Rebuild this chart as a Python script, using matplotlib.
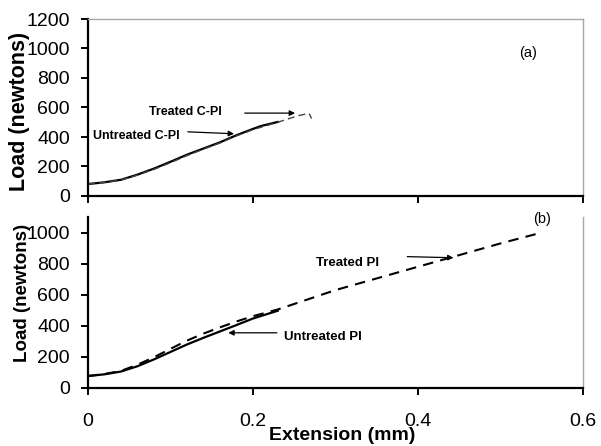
import matplotlib
matplotlib.use("Agg")
import matplotlib.pyplot as plt

plt.rcParams['font.family'] = ['Liberation Sans', 'DejaVu Sans']

# panel (a): C-PI
cpi_untreated_x = [0, 0.02, 0.04, 0.06, 0.08, 0.10, 0.12, 0.14, 0.16, 0.18, 0.20, 0.21, 0.23]
cpi_untreated_y = [81, 93, 110, 145, 186, 232, 280, 322, 364, 412, 455, 475, 502]
cpi_treated_x = [0, 0.02, 0.04, 0.06, 0.08, 0.10, 0.12, 0.14, 0.16, 0.18, 0.20, 0.23, 0.255, 0.268, 0.271]
cpi_treated_y = [81, 92, 108, 142, 181, 226, 274, 318, 360, 408, 450, 500, 545, 560, 525]

# panel (b): PI
pi_untreated_x = [0, 0.02, 0.04, 0.06, 0.08, 0.10, 0.12, 0.14, 0.16, 0.18, 0.20, 0.23]
pi_untreated_y = [77, 88, 106, 140, 184, 232, 280, 323, 364, 405, 447, 497]
pi_treated_x = [0, 0.02, 0.04, 0.06, 0.08, 0.10, 0.12, 0.14, 0.16, 0.18, 0.20, 0.23,
                0.30, 0.40, 0.50, 0.55]
pi_treated_y = [77, 90, 110, 150, 198, 252, 305, 350, 390, 428, 462, 505,
                630, 780, 930, 1000]

x_ticks = [0, 0.2, 0.4, 0.6]
x_tick_labels = ['0', '0.2', '0.4', '0.6']

fig = plt.figure(figsize=(6.01, 4.46), dpi=100)
ax_a = fig.add_axes([88 / 601, 1 - 196 / 446, 495 / 601, 177 / 446])
ax_b = fig.add_axes([88 / 601, 1 - 388 / 446, 495 / 601, 171 / 446])

arrow = dict(arrowstyle='-|>', lw=0.9, color='black', mutation_scale=8, shrinkA=0, shrinkB=0)


def style_axes(ax, show_top):
    ax.set_xlim(0, 0.6)
    ax.set_xticks(x_ticks)
    for side in ['left', 'bottom']:
        ax.spines[side].set_linewidth(1.6)
        ax.spines[side].set_color('black')
    ax.spines['right'].set_color('#a8a8a8')
    ax.spines['right'].set_linewidth(1.0)
    if show_top:
        ax.spines['top'].set_color('#a8a8a8')
        ax.spines['top'].set_linewidth(1.0)
    else:
        ax.spines['top'].set_visible(False)
    ax.tick_params(direction='out', length=5, width=1.4, labelsize=14, pad=8)


# (a)
ax_a.plot(cpi_untreated_x, cpi_untreated_y, color='black', lw=1.6)
ax_a.plot(cpi_treated_x, cpi_treated_y, color='#444444', lw=1.0, dashes=(5, 3))
style_axes(ax_a, True)
ax_a.set_ylim(0, 1200)
ax_a.set_yticks([0, 200, 400, 600, 800, 1000, 1200])
ax_a.tick_params(axis='x', labelbottom=False)
ax_a.set_ylabel('Load (newtons)', fontsize=15.5, fontweight='bold')
ax_a.yaxis.set_label_coords(-0.117, 0.475)
ax_a.text(0.533, 970, '(a)', fontsize=10.5, ha='center', va='center')
ax_a.annotate('', xy=(0.251, 562), xytext=(0.19, 562), arrowprops=arrow)
ax_a.text(0.118, 570, 'Treated C-PI', fontsize=9, fontweight='bold', ha='center', va='center')
ax_a.annotate('', xy=(0.177, 422), xytext=(0.121, 435), arrowprops=arrow)
ax_a.text(0.058, 405, 'Untreated C-PI', fontsize=9, fontweight='bold', ha='center', va='center')

# (b)
ax_b.plot(pi_untreated_x, pi_untreated_y, color='black', lw=1.6)
ax_b.plot(pi_treated_x, pi_treated_y, color='black', lw=1.5, dashes=(5, 3.5))
style_axes(ax_b, False)
ax_b.set_ylim(0, 1100)
ax_b.set_yticks([0, 200, 400, 600, 800, 1000])
ax_b.set_xticklabels(x_tick_labels)
ax_b.tick_params(axis='x', pad=13)
ax_b.set_ylabel('Load (newtons)', fontsize=13.5, fontweight='bold')
ax_b.yaxis.set_label_coords(-0.115, 0.553)
ax_b.set_xlabel('Extension (mm)', fontsize=14, fontweight='bold')
ax_b.xaxis.set_label_coords(0.513, -0.228)
ax_b.text(0.55, 1090, '(b)', fontsize=10.5, ha='center', va='center', clip_on=False)
ax_b.annotate('', xy=(0.443, 838), xytext=(0.387, 845), arrowprops=arrow)
ax_b.text(0.314, 806, 'Treated PI', fontsize=9.5, fontweight='bold', ha='center', va='center')
ax_b.annotate('', xy=(0.170, 355), xytext=(0.229, 355), arrowprops=arrow)
ax_b.text(0.285, 329, 'Untreated PI', fontsize=9.5, fontweight='bold', ha='center', va='center')

fig.savefig('out.png', dpi=100)
